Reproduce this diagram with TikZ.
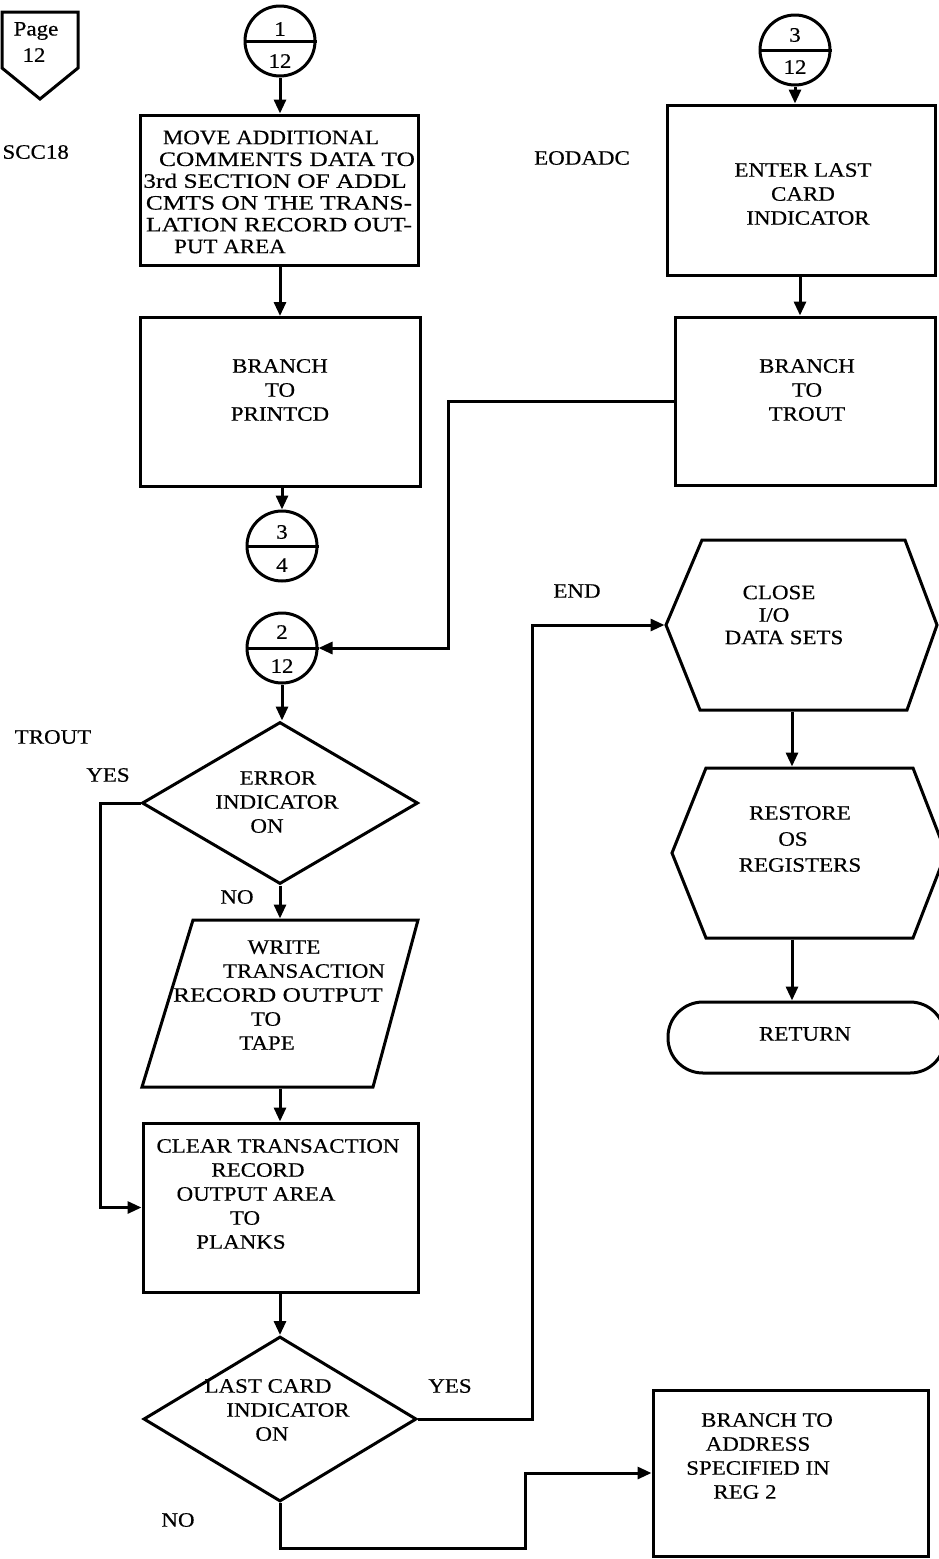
\documentclass[tikz,border=0pt]{standalone}
\usepackage{fontspec}
\setmainfont{Liberation Serif}[FakeStretch=1.12,FakeBold=0.4]
\newfontfamily\widefont{Liberation Serif}[FakeStretch=1.24,FakeBold=0.4]
\usetikzlibrary{arrows.meta,shapes.geometric,calc}
\begin{document}
\begin{tikzpicture}[x=1pt,y=-1pt,
  line width=3pt,
  every node/.style={font=\fontsize{20.5}{24}\selectfont, inner sep=0pt},
  txt/.style={align=center},
  box/.style={draw, rectangle},
  ghost/.style={rectangle},
  conn/.style={draw, circle, minimum size=70pt},
  dia/.style={draw, diamond},
  flow/.style={-{Triangle[length=14pt,width=12pt]}},
]
\useasboundingbox (0,0) rectangle (938,1559);

% page marker
\node (pg) at (36,31) {Page};
\node (pgn) at (34,55) {12};
\draw (2,12) -- (78,12) -- (78,68) -- (40,99) -- (2,68) -- cycle;
\node[anchor=west] (scc) at (1,152) {SCC18};
\node (eod) at (582,158) {EODADC};

% connectors (circles)
\node[conn] (c1) at (280,41) {};
\draw (c1.west) -- (c1.east);
\node (c1a) at (280,29) {1};
\node (c1b) at (280,61) {12};

\node[conn] (c34) at (282,546) {};
\draw (c34.west) -- (c34.east);
\node (c34a) at (282,532) {3};
\node (c34b) at (282,565) {4};

\node[conn] (c212) at (282,648) {};
\draw (c212.west) -- (c212.east);
\node (c212a) at (282,632) {2};
\node (c212b) at (282,666) {12};

\node[conn] (c312) at (795,50) {};
\draw (c312.west) -- (c312.east);
\node (c312a) at (795,35) {3};
\node (c312b) at (795,67) {12};

% left column
\node[box, minimum width=278pt, minimum height=150pt] (b1) at (279,190) {};
\node[txt, font=\fontsize{20.5}{21.8}\selectfont] (t1) at (279,192) {\hspace*{-16pt}MOVE ADDITIONAL\\\hspace*{16pt}{\widefont COMMENTS DATA TO}\\\hspace*{-8pt}{\widefont 3rd SECTION OF ADDL}\\{\widefont CMTS ON THE TRANS-}\\{\widefont LATION RECORD OUT-}\\\hspace*{-98pt}PUT AREA};

\node[box, minimum width=280pt, minimum height=169pt] (b2) at (280,402) {};
\node[txt] (t2) at (280,390) {BRANCH\\TO\\PRINTCD};

\node[dia, minimum width=276pt, minimum height=162pt] (d1) at (280,803) {};
\node[txt] (td1) at (272,802) {\hspace*{12pt}ERROR\\\hspace*{10pt}INDICATOR\\\hspace*{-10pt}ON};

\node[ghost, minimum width=276pt, minimum height=167pt] (par) at (280,1003.5) {};
\draw (193,920) -- (418,920) -- (373,1087) -- (142,1087) -- cycle;
\node[txt] (tpar) at (285,995) {\hspace*{-2pt}WRITE\\\hspace*{38pt}TRANSACTION\\\hspace*{-14pt}{\widefont RECORD OUTPUT}\\\hspace*{-38pt}TO\\\hspace*{-36pt}TAPE};

\node[box, minimum width=275pt, minimum height=169pt] (b3) at (280.5,1207.5) {};
\node[txt] (t3) at (278,1194) {CLEAR TRANSACTION\\\hspace*{-40pt}RECORD\\\hspace*{-44pt}OUTPUT AREA\\\hspace*{-66pt}TO\\\hspace*{-74pt}PLANKS};

\node[dia, minimum width=273pt, minimum height=165pt] (d2) at (280,1419) {};
\node[txt] (td2) at (282,1410) {\hspace*{-28pt}LAST CARD\\\hspace*{12pt}INDICATOR\\\hspace*{-20pt}ON};

% right column
\node[box, minimum width=268pt, minimum height=170pt] (b5) at (801,190) {};
\node[txt] (t5) at (803,194) {ENTER LAST\\CARD\\\hspace*{10pt}INDICATOR};

\node[box, minimum width=260pt, minimum height=168pt] (b6) at (805,401) {};
\node[txt] (t6) at (807,390) {BRANCH\\TO\\TROUT};

\node[ghost, minimum width=271pt, minimum height=170pt] (h1) at (801.5,625) {};
\draw (666,625) -- (702,540) -- (905,540) -- (937,625) -- (907,710) -- (700,710) -- cycle;
\node[txt, font=\fontsize{20.5}{22.5}\selectfont] (th1) at (784,615) {\hspace*{-10pt}CLOSE\\\hspace*{-20pt}I/O\\DATA SETS};

\node[ghost, minimum width=273pt, minimum height=170pt] (h2) at (808.5,853) {};
\draw (672,853) -- (706,768) -- (913,768) -- (946,853) -- (913,938) -- (706,938) -- cycle;
\node[txt, font=\fontsize{20.5}{26}\selectfont] (th2) at (800,839) {RESTORE\\\hspace*{-14pt}OS\\REGISTERS};

\node[draw, rectangle, rounded corners=35pt, minimum width=277pt, minimum height=71pt] (ret) at (806.5,1037.5) {};
\node (tret) at (805,1034) {RETURN};

\node[box, minimum width=275pt, minimum height=166pt] (b4) at (790.5,1473) {};
\node[txt] (t4) at (758,1456) {\hspace*{18pt}BRANCH TO\\ADDRESS\\SPECIFIED IN\\\hspace*{-26pt}REG 2};

% labels
\node (ltrout) at (53,737) {TROUT};
\node (lyes1) at (108,775) {YES};
\node (lno1) at (237,897) {NO};
\node (lyes2) at (450,1386) {YES};
\node (lno2) at (178,1520) {NO};
\node (lend) at (577,591) {END};

% flow lines
\draw[flow] (c1.south) -- (c1.south |- b1.north);
\draw[flow] (b1.south -| b2.north) -- (b2.north);
\draw[flow] (b2.south -| c34.north) -- (c34.north);
\draw[flow] (c312.south) -- (c312.south |- b5.north);
\draw[flow] (b5.south -| 800,0) -- (b6.north -| 800,0);
\draw[flow] (b6.west) -- ++(-225,0) |- (c212.east);
\draw[flow] (c212.south) -- (c212.south |- d1.north);
\draw[flow] (d1.west) -- ++(-40,0) |- (b3.west);
\draw[flow] (d1.south) -- (par.north);
\draw[flow] (par.south) -- (par.south |- b3.north);
\draw[flow] (b3.south -| d2.north) -- (d2.north);
\draw[flow] (d2.east) -- ++(114,0) |- (h1.west);
\draw[flow] (d2.south) -- ++(0,45) -- ++(245,0) |- (b4.west);
\draw[flow] ([xshift=-9.5pt]h1.south) -- ([xshift=-9.5pt]h1.south |- h2.north);
\draw[flow] ([xshift=-16.5pt]h2.south) -- ([xshift=-16.5pt]h2.south |- ret.north);
\end{tikzpicture}
\end{document}
